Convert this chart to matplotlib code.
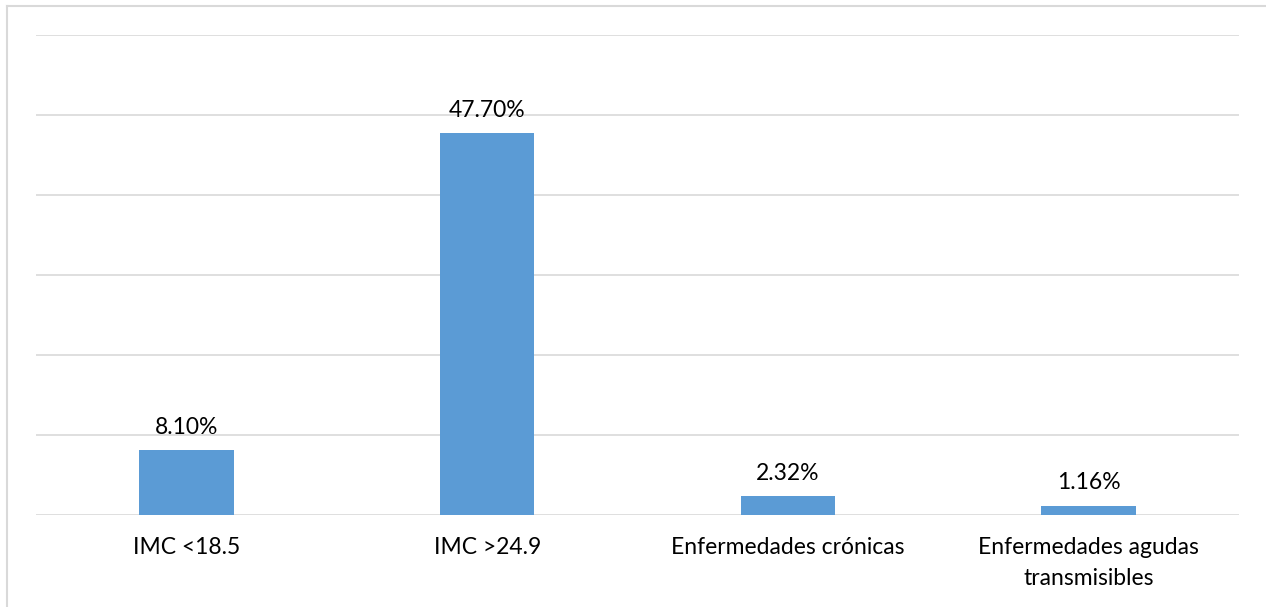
import matplotlib
matplotlib.use("Agg")
import matplotlib.pyplot as plt
from matplotlib.lines import Line2D

categories = ["IMC <18.5", "IMC >24.9", "Enfermedades crónicas", "Enfermedades agudas\ntransmisibles"]
values = [8.10, 47.70, 2.32, 1.16]
labels = ["8.10%", "47.70%", "2.32%", "1.16%"]
grid_ticks = [0, 10, 20, 30, 40, 50, 60]

W, H = 1266, 607
fig = plt.figure(figsize=(W / 100, H / 100), dpi=100)
plt.rcParams['font.family'] = ['Lato', 'DejaVu Sans']

ax = fig.add_axes([36 / W, 1 - 515 / H, (1239 - 36) / W, (515 - 35) / H])
x = list(range(len(categories)))
ax.bar(x, values, width=0.315, color="#5B9BD5", zorder=3)
ax.set_xlim(-0.5, len(categories) - 0.5)
ax.set_ylim(0, 60)
ax.set_yticks(grid_ticks)
ax.yaxis.grid(True, color="#D9D9D9", linewidth=1.2, zorder=0)
ax.tick_params(axis="y", length=0, labelleft=False)
ax.set_xticks(x)
ax.set_xticklabels(categories, fontsize=16.5, color="#000000", linespacing=1.6)
ax.tick_params(axis="x", length=0, pad=16)
for s in ax.spines.values():
    s.set_visible(False)

for xi, v, lab in zip(x, values, labels):
    ax.annotate(lab, (xi, v), xytext=(0, 9), textcoords="offset points",
                ha="center", va="bottom", fontsize=16.5, color="#000000")

fig.add_artist(Line2D([7.5 / W, 7.5 / W], [0, 1 - 5.5 / H], transform=fig.transFigure,
                      color="#D9D9D9", linewidth=1.5))
fig.add_artist(Line2D([7.5 / W, 1], [1 - 5.5 / H, 1 - 5.5 / H], transform=fig.transFigure,
                      color="#D9D9D9", linewidth=1.5))

fig.savefig("out.png", dpi=100)
